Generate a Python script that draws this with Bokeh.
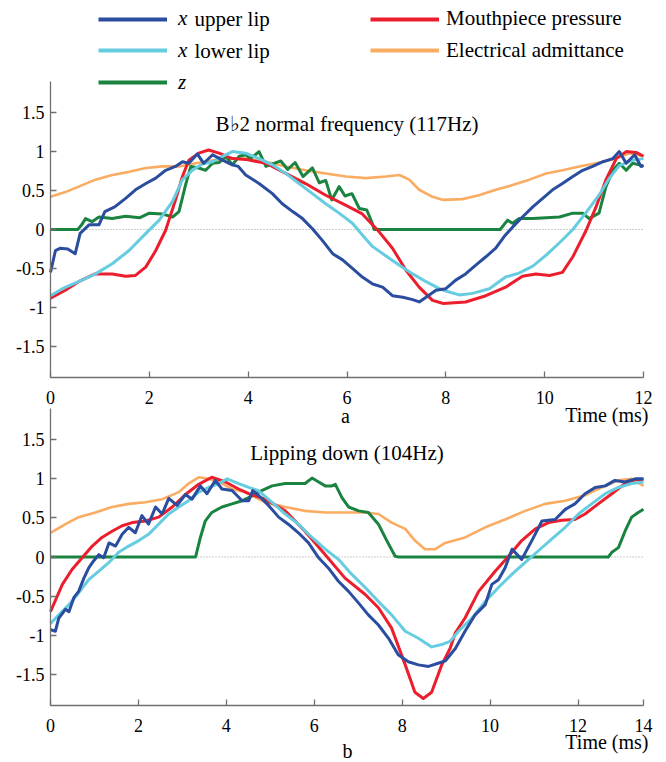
from bokeh.plotting import figure
from bokeh.models import Range1d, FixedTicker, Label, Legend, LegendItem, LinearAxis
from bokeh.embed import file_html
from bokeh.resources import INLINE

# ---------------- chart a : Bb2 normal frequency ----------------
t_upper_a = [0, 0.1, 0.2, 0.35, 0.5, 0.6, 0.78, 0.98, 1.1, 1.3, 1.52, 1.72, 1.93, 2.13, 2.33,
             2.53, 2.67, 2.8, 2.97, 3.1, 3.28, 3.48, 3.68, 3.8, 3.95, 4.22, 4.49, 4.69, 4.9, 5.1,
             5.3, 5.5, 5.71, 5.91, 6.11, 6.31, 6.52, 6.72, 6.92, 7.13, 7.33, 7.46, 7.6, 7.8, 8.0,
             8.2, 8.4, 8.6, 8.81, 9.01, 9.18, 9.35, 9.55, 9.76, 9.96, 10.16, 10.36, 10.57, 10.77,
             10.97, 11.18, 11.38, 11.51, 11.65, 11.82, 11.95, 12.0]
upper_a = [-0.55, -0.27, -0.24, -0.25, -0.31, -0.05, 0.06, 0.06, 0.23, 0.29, 0.40, 0.51, 0.59, 0.66, 0.76,
           0.81, 0.87, 0.85, 0.97, 0.85, 0.96, 0.89, 0.83, 0.81, 0.70, 0.59, 0.46, 0.33, 0.23, 0.14,
           0.01, -0.14, -0.31, -0.39, -0.50, -0.61, -0.70, -0.74, -0.85, -0.87, -0.90, -0.93, -0.87, -0.78, -0.76,
           -0.65, -0.57, -0.46, -0.35, -0.24, -0.09, 0.03, 0.16, 0.29, 0.40, 0.51, 0.59, 0.68, 0.76,
           0.81, 0.87, 0.91, 1.0, 0.85, 0.96, 0.81, 0.82]

t_lower_a = [0, 0.24, 0.57, 0.91, 1.25, 1.59, 1.93, 2.2, 2.47, 2.67, 2.87, 3.07, 3.28, 3.48, 3.68,
             3.95, 4.22, 4.49, 4.76, 5.03, 5.3, 5.57, 5.84, 6.11, 6.31, 6.52, 6.79, 7.06, 7.33, 7.6,
             7.87, 8.0, 8.27, 8.54, 8.88, 9.21, 9.48, 9.76, 10.03, 10.3, 10.57, 10.84, 11.11, 11.31,
             11.51, 11.78, 12.0]
lower_a = [-0.85, -0.76, -0.67, -0.57, -0.44, -0.27, -0.05, 0.12, 0.36, 0.64, 0.76, 0.84, 0.87, 0.94, 1.0,
           0.98, 0.91, 0.83, 0.72, 0.59, 0.46, 0.33, 0.21, 0.08, -0.07, -0.22, -0.34, -0.46, -0.57, -0.67,
           -0.76, -0.79, -0.84, -0.82, -0.76, -0.61, -0.56, -0.47, -0.33, -0.17, 0.0, 0.22, 0.45, 0.66,
           0.82, 0.89, 0.91]

t_z_a = [0, 0.55, 0.62, 0.71, 0.84, 0.98, 1.25, 1.52, 1.8, 2.0, 2.26, 2.47, 2.6, 2.74, 2.84,
         3.0, 3.14, 3.28, 3.41, 3.55, 3.68, 3.82, 3.95, 4.05, 4.22, 4.36, 4.66, 4.8, 4.95, 5.11,
         5.3, 5.44, 5.57, 5.69, 5.84, 5.96, 6.1, 6.25, 6.4, 6.5, 6.55, 9.1, 9.25, 9.35, 9.48,
         9.76, 10.03, 10.3, 10.57, 10.77, 10.9, 11.1, 11.24, 11.38, 11.51, 11.65, 11.78, 11.92, 12.0]
z_a = [0, 0, 0.05, 0.14, 0.10, 0.16, 0.14, 0.17, 0.15, 0.21, 0.20, 0.16, 0.23, 0.59, 0.81,
       0.79, 0.76, 0.85, 0.86, 0.94, 0.83, 0.94, 0.96, 0.91, 1.0, 0.81, 0.88, 0.77, 0.86, 0.68,
       0.79, 0.60, 0.63, 0.38, 0.55, 0.43, 0.46, 0.27, 0.25, 0.10, 0.0, 0.0, 0.12, 0.08, 0.14,
       0.14, 0.15, 0.16, 0.21, 0.21, 0.14, 0.21, 0.55, 0.76, 0.85, 0.76, 0.85, 0.83, 0.81]

t_press_a = [0, 0.3, 0.57, 0.9, 1.25, 1.52, 1.72, 1.93, 2.13, 2.33, 2.53, 2.67, 2.8, 3.0, 3.2,
             3.41, 3.68, 3.95, 4.36, 4.76, 5.16, 5.57, 5.98, 6.31, 6.65, 6.92, 7.19, 7.46, 7.73, 7.95,
             8.4, 8.81, 9.21, 9.55, 9.82, 10.1, 10.36, 10.57, 10.84, 11.04, 11.24, 11.45, 11.65, 11.85, 12.0]
press_a = [-0.88, -0.78, -0.67, -0.57, -0.57, -0.60, -0.59, -0.48, -0.27, -0.01, 0.38, 0.68, 0.89, 0.98, 1.02,
           0.98, 0.91, 0.90, 0.85, 0.72, 0.59, 0.44, 0.31, 0.20, -0.03, -0.24, -0.52, -0.74, -0.91, -0.95,
           -0.93, -0.85, -0.74, -0.60, -0.57, -0.59, -0.55, -0.35, -0.01, 0.29, 0.64, 0.91, 1.0, 0.99, 0.94]

t_adm_a = [0, 0.3, 0.57, 0.91, 1.25, 1.59, 1.93, 2.26, 2.6, 2.94, 3.28, 3.61, 3.95, 4.36, 4.76,
           5.16, 5.57, 5.98, 6.38, 6.79, 7.06, 7.26, 7.46, 7.73, 7.95, 8.34, 8.67, 9.01, 9.35, 9.69,
           10.03, 10.36, 10.7, 11.04, 11.38, 11.72, 12.0]
adm_a = [0.42, 0.48, 0.55, 0.64, 0.70, 0.74, 0.79, 0.81, 0.81, 0.85, 0.89, 0.91, 0.91, 0.87, 0.81,
         0.76, 0.72, 0.68, 0.66, 0.68, 0.70, 0.64, 0.51, 0.42, 0.38, 0.39, 0.44, 0.51, 0.57, 0.64,
         0.72, 0.76, 0.81, 0.85, 0.90, 0.98, 0.94]

# ---------------- chart b : Lipping down ----------------
t_upper_b = [0, 0.11, 0.19, 0.34, 0.42, 0.53, 0.64, 0.76, 0.87, 0.98, 1.10, 1.21, 1.33, 1.48, 1.63,
             1.78, 1.93, 2.08, 2.23, 2.39, 2.54, 2.69, 2.88, 3.07, 3.22, 3.41, 3.56, 3.75, 3.90, 4.13,
             4.36, 4.51, 4.60, 4.73, 4.96, 5.19, 5.41, 5.64, 5.87, 6.10, 6.32, 6.55, 6.78, 7.01, 7.23,
             7.46, 7.69, 7.91, 8.14, 8.37, 8.60, 8.82, 8.98, 9.21, 9.43, 9.66, 9.89, 10.04, 10.19, 10.34,
             10.50, 10.72, 10.95, 11.18, 11.48, 11.71, 11.93, 12.16, 12.39, 12.62, 12.84, 13.07, 13.30, 13.49]
upper_b = [-0.93, -0.95, -0.78, -0.67, -0.70, -0.52, -0.44, -0.27, -0.14, -0.05, 0.03, -0.01, 0.18, 0.14, 0.29,
           0.38, 0.31, 0.53, 0.42, 0.64, 0.55, 0.75, 0.66, 0.80, 0.74, 0.91, 0.81, 0.98, 0.87, 0.85,
           0.72, 0.72, 0.85, 0.79, 0.66, 0.51, 0.42, 0.31, 0.18, -0.01, -0.14, -0.31, -0.44, -0.59, -0.74,
           -0.87, -1.04, -1.25, -1.34, -1.38, -1.40, -1.36, -1.33, -1.17, -0.95, -0.74, -0.61, -0.35, -0.29, -0.14,
           0.10, -0.03, 0.21, 0.46, 0.48, 0.61, 0.68, 0.81, 0.89, 0.91, 0.98, 0.96, 1.0, 1.0]

t_lower_b = [0, 0.19, 0.42, 0.64, 0.87, 1.10, 1.33, 1.55, 1.78, 2.01, 2.23, 2.46, 2.69, 2.92, 3.14,
             3.37, 3.60, 3.83, 4.02, 4.28, 4.51, 4.73, 5.04, 5.34, 5.64, 5.95, 6.25, 6.55, 6.85, 7.16,
             7.46, 7.76, 8.07, 8.37, 8.67, 8.90, 9.09, 9.28, 9.59, 9.89, 10.19, 10.50, 10.80, 11.10, 11.40,
             11.71, 12.01, 12.31, 12.62, 12.92, 13.22, 13.49]
lower_b = [-0.85, -0.74, -0.61, -0.46, -0.29, -0.18, -0.07, 0.06, 0.14, 0.21, 0.29, 0.42, 0.55, 0.64, 0.72,
           0.83, 0.89, 0.94, 1.0, 0.94, 0.89, 0.85, 0.70, 0.55, 0.42, 0.25, 0.10, -0.03, -0.22, -0.39,
           -0.57, -0.74, -0.95, -1.04, -1.15, -1.12, -1.08, -0.95, -0.78, -0.57, -0.39, -0.22, -0.07, 0.08, 0.23,
           0.38, 0.55, 0.68, 0.81, 0.89, 0.94, 0.96]

t_z_b = [0, 3.30, 3.41, 3.52, 3.67, 3.90, 4.13, 4.36, 4.51, 4.73, 5.04, 5.34, 5.64, 5.79, 5.95,
         6.10, 6.25, 6.40, 6.48, 6.63, 6.78, 7.01, 7.23, 7.46, 7.65, 7.84, 7.92, 12.69, 12.77, 12.92,
         13.07, 13.22, 13.37, 13.49]
z_b = [0, 0, 0.25, 0.46, 0.57, 0.64, 0.68, 0.72, 0.76, 0.83, 0.91, 0.94, 0.94, 0.94, 1.01,
       0.96, 0.91, 0.91, 0.93, 0.76, 0.64, 0.59, 0.57, 0.42, 0.21, 0.01, 0, 0, 0.06, 0.12,
       0.33, 0.51, 0.57, 0.61]

t_press_b = [0, 0.27, 0.49, 0.72, 0.95, 1.17, 1.40, 1.63, 1.86, 2.16, 2.46, 2.77, 3.07, 3.37, 3.67,
             3.98, 4.28, 4.51, 4.88, 5.34, 5.79, 6.25, 6.70, 7.16, 7.46, 7.76, 8.07, 8.29, 8.48, 8.67,
             8.90, 9.09, 9.21, 9.43, 9.74, 10.12, 10.42, 10.72, 11.03, 11.33, 11.63, 11.93, 12.16, 12.46, 12.77,
             13.07, 13.30, 13.49]
press_b = [-0.70, -0.35, -0.16, -0.01, 0.14, 0.25, 0.33, 0.40, 0.44, 0.46, 0.51, 0.64, 0.80, 0.93, 1.02,
           0.96, 0.87, 0.81, 0.74, 0.59, 0.33, 0.03, -0.27, -0.48, -0.65, -0.91, -1.38, -1.73, -1.81, -1.73,
           -1.38, -1.17, -0.97, -0.78, -0.44, -0.18, 0.01, 0.21, 0.36, 0.44, 0.47, 0.48, 0.55, 0.68, 0.81,
           0.94, 0.99, 0.99]

t_adm_b = [0, 0.34, 0.64, 1.02, 1.40, 1.78, 2.16, 2.54, 2.92, 3.14, 3.37, 3.60, 3.83, 4.13, 4.43,
           4.88, 5.34, 5.79, 6.25, 6.70, 7.16, 7.46, 7.76, 8.07, 8.29, 8.52, 8.75, 8.98, 9.43, 9.89,
           10.34, 10.80, 11.25, 11.71, 12.16, 12.54, 12.92, 13.22, 13.49]
adm_b = [0.31, 0.42, 0.51, 0.57, 0.64, 0.68, 0.70, 0.74, 0.83, 0.94, 1.02, 1.0, 0.96, 0.87, 0.83,
         0.70, 0.64, 0.59, 0.57, 0.57, 0.57, 0.55, 0.44, 0.36, 0.21, 0.10, 0.10, 0.18, 0.25, 0.38,
         0.48, 0.59, 0.68, 0.72, 0.79, 0.89, 0.98, 1.0, 0.91]

# ---------------- axes / labels ----------------
y_lo, y_hi = -1.9, 1.9
y_ticks = [-1.5, -1, -0.5, 0, 0.5, 1, 1.5]
y_tick_labels = ["-1.5", "-1", "-0.5", "0", "0.5", "1", "1.5"]
x_end_a = 12
x_ticks_a = [0, 2, 4, 6, 8, 10, 12]
x_tick_labels_a = ["0", "2", "4", "6", "8", "10", "12"]
x_end_b = 13.49
x_ticks_b = [0, 2, 4, 6, 8, 10, 12, 13.49]
x_tick_labels_b = ["0", "2", "4", "6", "8", "10", "12", "14"]

title_a = "B\u266d2 normal frequency (117Hz)"
title_b = "Lipping down (104Hz)"
x_title = "Time (ms)"
series_names = ["x upper lip", "x lower lip", "z", "Mouthpiece pressure", "Electrical admittance"]

C_UPPER = "#2A4DA0"
C_LOWER = "#66CCDF"
C_Z = "#1A8340"
C_PRESS = "#EC1E2D"
C_ADM = "#F9AC62"
AXIS_C = "#707070"
SERIF = "Liberation Serif"

# ---------------- page geometry (pixels) ----------------
W, H = 666, 762
FR_L, FR_R = 50, 643          # plot frame left / right of both charts
A_TOP, A_BOT = 81, 377        # chart a frame top / bottom
B_TOP, B_BOT = 408, 705       # chart b frame top / bottom
TXT_SHIFT = 7                 # renderer draws alphabetic text this much lower


def x_span(v0, v1, p0, p1):
    s = (p1 - p0) / (v1 - v0)
    return Range1d(v0 - p0 / s, v0 + (W - p0) / s)


def y_span(vlo, vhi, ptop, pbot):
    s = (pbot - ptop) / (vhi - vlo)
    return Range1d(vlo - (H - pbot) / s, vhi + ptop / s)


p = figure(width=W, height=H,
           x_range=x_span(0, x_end_a, FR_L, FR_R), y_range=y_span(y_lo, y_hi, A_TOP, A_BOT),
           x_axis_type=None, y_axis_type=None,
           output_backend="svg", toolbar_location=None, min_border=0)
p.extra_x_ranges = {"b": x_span(0, x_end_b, FR_L, FR_R)}
p.extra_y_ranges = {"b": y_span(y_lo, y_hi, B_TOP, B_BOT)}
p.outline_line_color = None
p.background_fill_color = "white"
p.border_fill_color = "white"


def style_axis(ax):
    ax.axis_line_color = AXIS_C
    ax.axis_line_width = 1.3
    ax.major_tick_line_color = AXIS_C
    ax.major_tick_line_width = 1.3
    ax.major_tick_in = 6
    ax.major_tick_out = 0
    ax.minor_tick_line_color = None
    ax.major_label_text_font = SERIF
    ax.major_label_text_font_size = "18px"
    ax.major_label_text_color = "black"


def add_axes(rn, x_end, xticks, xlabels):
    xa = LinearAxis(x_range_name=rn, y_range_name=rn, fixed_location=y_lo, bounds=(0, x_end),
                    ticker=FixedTicker(ticks=xticks),
                    major_label_overrides={v: s for v, s in zip(xticks, xlabels)})
    style_axis(xa)
    xa.major_label_standoff = 13
    p.add_layout(xa, "below")
    ya = LinearAxis(x_range_name=rn, y_range_name=rn, fixed_location=0, bounds=(y_lo, y_hi),
                    ticker=FixedTicker(ticks=y_ticks),
                    major_label_overrides={v: s for v, s in zip(y_ticks, y_tick_labels)})
    style_axis(ya)
    ya.major_label_standoff = 6
    p.add_layout(ya, "left")
    # dotted zero reference line across the chart
    p.segment(x0=[0], y0=[0], x1=[x_end], y1=[0], line_color="#9a9a9a", line_width=1,
              line_dash="1 2", x_range_name=rn, y_range_name=rn)


def draw(rn, series):
    rs = {}
    for key, (t, v, c, w) in series.items():
        rs[key] = p.line(t, v, line_color=c, line_width=w, line_join="round",
                         x_range_name=rn, y_range_name=rn)
    return rs


def add_text(x, y_top, text, size, align="left", baseline="alphabetic", style="normal"):
    # x, y_top in page pixels (from the top-left corner)
    if baseline == "alphabetic":
        y_top -= TXT_SHIFT
    p.add_layout(Label(x=x, y=H - y_top, x_units="screen", y_units="screen", text=text,
                       text_font=SERIF, text_font_size=size, text_align=align,
                       text_baseline=baseline, text_font_style=style, text_color="black"))


add_axes("default", x_end_a, x_ticks_a, x_tick_labels_a)
add_axes("b", x_end_b, x_ticks_b, x_tick_labels_b)

draw("default", {
    "adm": (t_adm_a, adm_a, C_ADM, 2.6),
    "z": (t_z_a, z_a, C_Z, 3),
    "press": (t_press_a, press_a, C_PRESS, 3),
    "lower": (t_lower_a, lower_a, C_LOWER, 3),
    "upper": (t_upper_a, upper_a, C_UPPER, 3),
})
draw("b", {
    "adm": (t_adm_b, adm_b, C_ADM, 2.6),
    "z": (t_z_b, z_b, C_Z, 3),
    "press": (t_press_b, press_b, C_PRESS, 3),
    "lower": (t_lower_b, lower_b, C_LOWER, 3),
    "upper": (t_upper_b, upper_b, C_UPPER, 3),
})

add_text(346.5, 130, title_a, "21px", align="center")
add_text(346.5, 459, title_b, "21px", align="center")
add_text(648, 421, x_title, "20px", align="right")
add_text(345, 422, "a", "20px", align="center")
add_text(648, 748, x_title, "20px", align="right")
add_text(347, 757, "b", "20px", align="center")

# legend: glyph x-start, italic label, remaining roman text, row centre (page px from top)
leg_specs = [
    (C_UPPER, "x", "upper lip", 98, 18.7),
    (C_LOWER, "x", "lower lip", 98, 50.3),
    (C_Z, "z", None, 98, 82.0),
    (C_PRESS, series_names[3], None, 370, 18.7),
    (C_ADM, series_names[4], None, 370, 50.3),
]
ITEM_H = 26
for col, lab, rest, lx, cy in leg_specs:
    # legend proxy: a single undefined point, so nothing is drawn in the chart itself
    proxy = p.line([float("nan")], [float("nan")], line_color=col, line_width=4)
    italic = len(lab) == 1
    lg = Legend(items=[LegendItem(label=lab, renderers=[proxy])],
                location=(lx, H - cy - ITEM_H / 2), orientation="vertical",
                glyph_width=69, glyph_height=ITEM_H, label_height=ITEM_H,
                label_standoff=11 if italic else 7,
                padding=0, margin=0, spacing=0,
                border_line_color=None, background_fill_alpha=0,
                label_text_font=SERIF, label_text_font_size="21px",
                label_text_font_style="italic" if italic else "normal",
                label_text_color="black")
    p.add_layout(lg, "center")
    if rest:
        add_text(194, cy, rest, "21px", baseline="middle")

open("out.html", "w").write(file_html(p, INLINE))
